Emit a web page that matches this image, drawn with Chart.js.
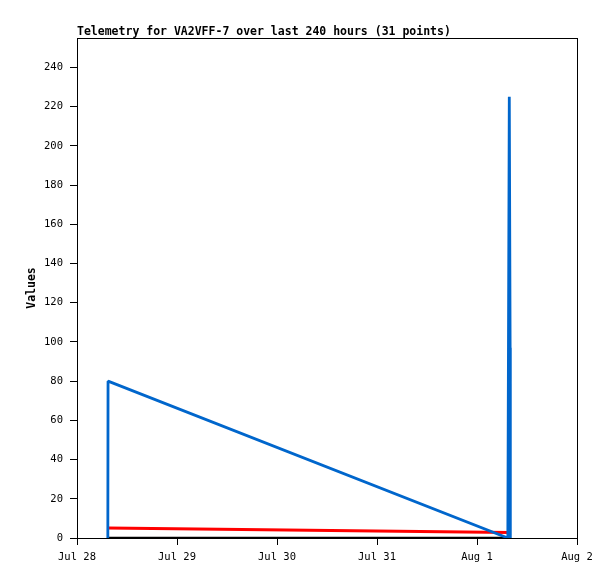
<!DOCTYPE html>
<html>
<head>
<meta charset="utf-8">
<title>Telemetry VA2VFF-7</title>
<script src="https://cdn.jsdelivr.net/npm/chart.js@4.4.1/dist/chart.umd.min.js"></script>
<style>
  html, body { margin: 0; padding: 0; background: #fff; }
  canvas { display: block; }
</style>
</head>
<body>
<canvas id="telemetryChart" width="615" height="579"></canvas>
<script>
// hours since Jul 28 00:00
const dayLabels = ['Jul 28', 'Jul 29', 'Jul 30', 'Jul 31', 'Aug 1', 'Aug 2'];
const yTicks = [0, 20, 40, 60, 80, 100, 120, 140, 160, 180, 200, 220, 240];

const blueTimes = [7.4, 7.45, 102.8, 103.4, 103.75, 103.95, 104.0];
const blueValues = [0, 80, 0.5, 0, 225, 97, 0];

const redTimes = [7.45, 103.75];
const redValues = [5.1, 2.8];

const blackTimes = [7.4, 104.0];
const blackValues = [0, 0];

const titleText = 'Telemetry for VA2VFF-7 over last 240 hours (31 points)';

function toPoints(times, values) {
    return times.map((t, i) => ({ x: t, y: values[i] }));
}

const frameAndTitle = {
    id: 'frameAndTitle',
    afterDraw(chart) {
        const ctx = chart.ctx;
        const a = chart.chartArea;
        ctx.save();
        ctx.strokeStyle = '#000';
        ctx.lineWidth = 1;
        ctx.strokeRect(a.left + 0.5, a.top + 0.5, a.right - a.left, a.bottom - a.top);
        ctx.fillStyle = '#000';
        ctx.font = 'bold 11.5px "DejaVu Sans Mono"';
        ctx.textBaseline = 'alphabetic';
        ctx.textAlign = 'left';
        ctx.fillText(titleText, a.left, 35);
        ctx.restore();
    }
};

const monoFont = { family: '"DejaVu Sans Mono"', size: 10.5 };

new Chart(document.getElementById('telemetryChart').getContext('2d'), {
    type: 'line',
    data: {
        datasets: [
            {
                label: 'blue',
                data: toPoints(blueTimes, blueValues),
                borderColor: '#0066CC',
                borderWidth: 2.8,
                borderJoinStyle: 'bevel',
                pointRadius: 0,
                tension: 0,
                order: 1
            },
            {
                label: 'red',
                data: toPoints(redTimes, redValues),
                borderColor: '#FF0000',
                borderWidth: 2.8,
                pointRadius: 0,
                tension: 0,
                order: 2
            },
            {
                label: 'black',
                data: toPoints(blackTimes, blackValues),
                borderColor: '#000000',
                borderWidth: 2.5,
                pointRadius: 0,
                tension: 0,
                order: 3
            }
        ]
    },
    options: {
        responsive: false,
        animation: false,
        devicePixelRatio: 1,
        layout: { padding: { left: 20, right: 38, top: 38, bottom: 0 } },
        scales: {
            x: {
                type: 'linear',
                min: 0,
                max: 120,
                grid: { drawOnChartArea: false, tickLength: 7, color: '#000' },
                border: { color: '#000', width: 1 },
                afterBuildTicks: scale => {
                    scale.ticks = dayLabels.map((_, i) => ({ value: i * 24 }));
                },
                afterFit: scale => { scale.height = 41; },
                ticks: {
                    color: '#000',
                    font: monoFont,
                    padding: 6,
                    maxRotation: 0,
                    autoSkip: false,
                    callback: value => dayLabels[Math.round(value / 24)]
                }
            },
            y: {
                min: 0,
                max: 255,
                grid: { drawOnChartArea: false, tickLength: 7, color: '#000' },
                border: { color: '#000', width: 1 },
                afterBuildTicks: scale => {
                    scale.ticks = yTicks.map(v => ({ value: v }));
                },
                afterFit: scale => { scale.width = 57; },
                title: {
                    display: true,
                    text: 'Values',
                    color: '#000',
                    font: { family: '"DejaVu Sans Mono"', size: 11.5, weight: 'bold' },
                    padding: { top: 5, bottom: 0 }
                },
                ticks: {
                    color: '#000',
                    font: monoFont,
                    padding: 7,
                    autoSkip: false
                }
            }
        },
        plugins: {
            legend: { display: false },
            tooltip: { enabled: false }
        }
    },
    plugins: [frameAndTitle]
});
</script>
</body>
</html>
